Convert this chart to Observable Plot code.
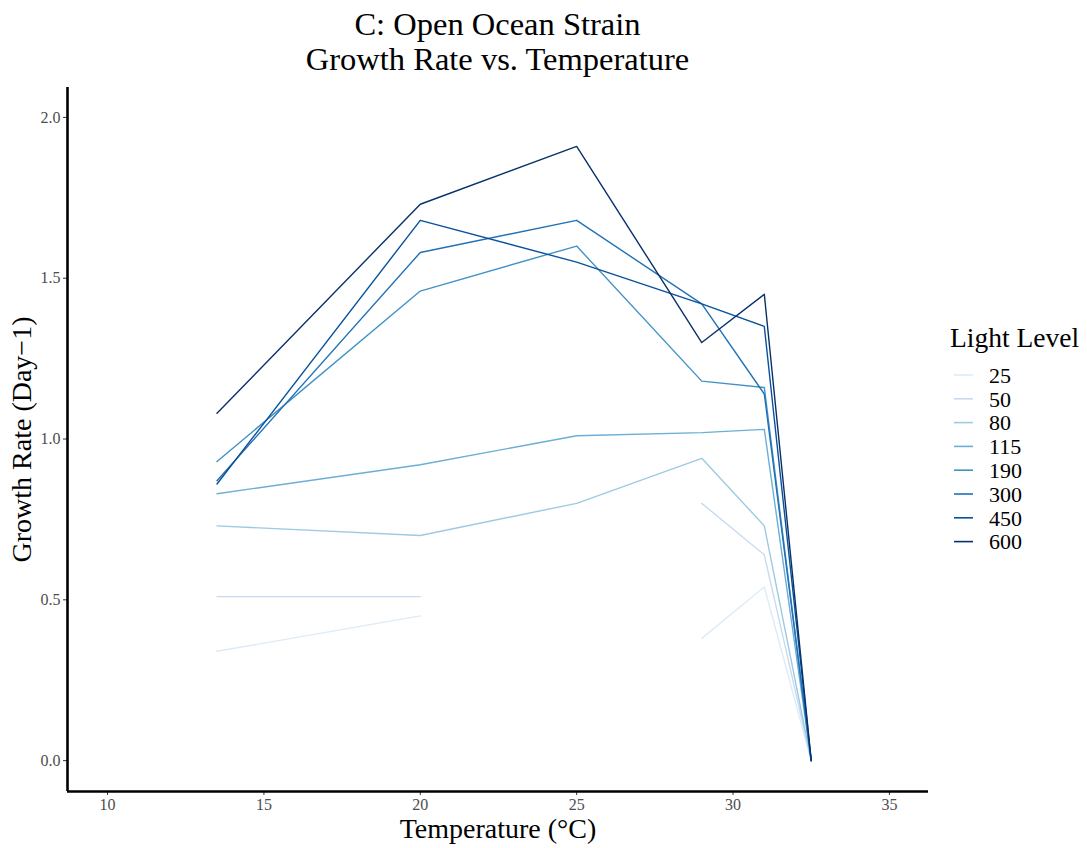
<!DOCTYPE html>
<html>
<head>
<meta charset="utf-8">
<script src="https://cdn.jsdelivr.net/npm/d3@7"></script>
<script src="https://cdn.jsdelivr.net/npm/@observablehq/plot@0.6"></script>
<style>
  html, body { margin: 0; padding: 0; background: white; }
  #wrap { position: relative; width: 1087px; height: 848px; font-family: "Liberation Serif", "DejaVu Serif", serif; overflow: hidden; }
  #title { position: absolute; left: 0; top: 6.5px; width: 995px; text-align: center; font-size: 32.5px; line-height: 35px; color: #000; }
  #chart { position: absolute; left: 0; top: 80px; }
  #legend { position: absolute; left: 940px; top: 320px; }
</style>
</head>
<body>
<div id="wrap">
  <div id="title">C: Open Ocean Strain<br>Growth Rate vs. Temperature</div>
  <div id="chart"></div>
  <svg id="legend" width="147" height="240"></svg>
</div>
<script>
// ---- data ----
const temps = [13.5, 20, 25, 29, 31, 32.5];
const lightLevels = ["25", "50", "80", "115", "190", "300", "450", "600"];
const g25  = [0.34, 0.45, null, 0.38, 0.54, 0];
const g50  = [0.51, 0.51, null, 0.80, 0.64, 0];
const g80  = [0.73, 0.70, 0.80, 0.94, 0.73, 0];
const g115 = [0.83, 0.92, 1.01, 1.02, 1.03, 0];
const g190 = [0.93, 1.46, 1.60, 1.18, 1.16, 0];
const g300 = [0.87, 1.58, 1.68, 1.42, 1.14, 0];
const g450 = [0.86, 1.68, 1.55, 1.42, 1.35, 0];
const g600 = [1.08, 1.73, 1.91, 1.30, 1.45, 0];
const seriesValues = [g25, g50, g80, g115, g190, g300, g450, g600];
const colors = ["#deebf7", "#c6dbef", "#9ecae1", "#6baed6", "#4292c6", "#2171b5", "#08519c", "#08306b"];
const xTicks = [10, 15, 20, 25, 30, 35];
const yTicks = [0, 0.5, 1, 1.5, 2];
const xDomain = [8.72, 36.25];
const yDomain = [-0.096, 2.093];

const rows = [];
lightLevels.forEach((lvl, i) => {
  temps.forEach((t, j) => {
    const v = seriesValues[i][j];
    rows.push({light: lvl, temp: t, growth: v == null ? NaN : v});
  });
});

const font = "Liberation Serif, DejaVu Serif, serif";

const plot = Plot.plot({
  width: 935,
  height: 768,
  marginLeft: 67,
  marginRight: 7,
  marginTop: 7,
  marginBottom: 57,
  style: {fontFamily: font, background: "white", overflow: "visible"},
  x: {domain: xDomain},
  y: {domain: yDomain},
  color: {domain: lightLevels, range: colors},
  marks: [
    Plot.axisX({ticks: xTicks, tickSize: 4, tickPadding: 3, fontSize: 16, stroke: "#333", fill: "#4d4d4d", label: null, tickFormat: d => String(d)}),
    Plot.axisY({ticks: yTicks, tickSize: 4, tickPadding: 3, fontSize: 16, stroke: "#333", fill: "#4d4d4d", label: null, tickFormat: d3.format(".1f")}),
    Plot.line(rows, {x: "temp", y: "growth", z: "light", stroke: "light", strokeWidth: 1.4}),
    Plot.ruleY([yDomain[0]], {stroke: "black", strokeWidth: 2.6}),
    Plot.ruleX([xDomain[0]], {stroke: "black", strokeWidth: 2.6}),
    Plot.text(["Temperature (°C)"], {frameAnchor: "bottom", dy: 46, text: d => d, fontSize: 28, fill: "black"}),
    Plot.text(["Growth Rate (Day\u22121)"], {frameAnchor: "left", textAnchor: "middle", dx: -45, rotate: -90, text: d => d, fontSize: 28, fill: "black"})
  ]
});
document.getElementById("chart").appendChild(plot);

// ---- legend ----
const leg = d3.select("#legend").style("font-family", font);
leg.append("text").attr("x", 10).attr("y", 27).attr("font-size", 27.5).attr("fill", "black").text("Light Level");
lightLevels.forEach((lvl, i) => {
  const cy = 55 + i * 23.8;
  leg.append("line").attr("x1", 14).attr("x2", 33).attr("y1", cy).attr("y2", cy)
    .attr("stroke", colors[i]).attr("stroke-width", 1.6);
  leg.append("text").attr("x", 49).attr("y", cy).attr("dy", "0.35em").attr("font-size", 22).attr("fill", "black").text(lvl);
});
</script>
</body>
</html>
